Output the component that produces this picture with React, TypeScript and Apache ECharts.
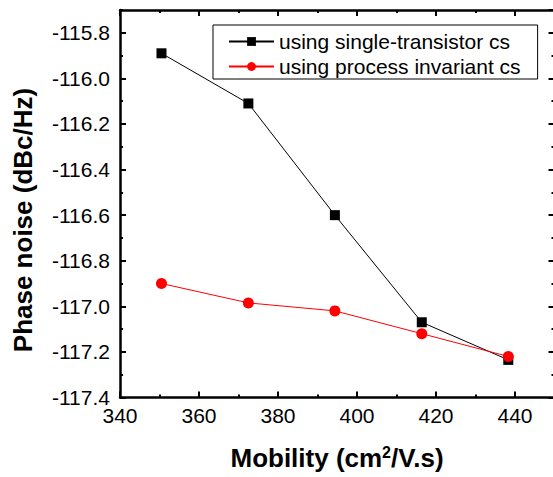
import React, { useEffect, useRef } from 'react';
import * as echarts from 'echarts';

const mobility = [350.5, 372.5, 394.4, 416.4, 438.3];
const singleTransistor = [-115.89, -116.11, -116.6, -117.07, -117.235];
const processInvariant = [-116.9, -116.985, -117.02, -117.12, -117.22];
const seriesNames = ['using single-transistor cs', 'using process invariant cs'];
const xTitle = 'Mobility (cm{sup|2}/V.s)';
const yTitle = 'Phase noise (dBc/Hz)';

const FONT = '"Liberation Sans", Arial, Helvetica, sans-serif';

export default function App() {
  const ref = useRef<HTMLDivElement>(null);
  useEffect(() => {
    const chart = echarts.init(ref.current!, null, { renderer: 'svg' });
    const line = { show: true, onZero: false, lineStyle: { color: '#000', width: 2.5 } };
    const noLine = { show: false };
    const tick = (len: number) => ({ show: true, inside: true, length: len, lineStyle: { color: '#000', width: 2 } });
    const mkX = (pos: string, interval: number, len: number, labels: boolean, withLine: boolean) => ({
      type: 'value', position: pos, min: 340, max: 450, interval,
      axisLine: withLine ? line : noLine,
      axisTick: tick(len),
      axisLabel: labels
        ? { show: true, fontSize: 21, fontFamily: FONT, color: '#000', margin: 7, showMaxLabel: false }
        : { show: false },
      splitLine: { show: false },
    });
    const mkY = (pos: string, interval: number, len: number, labels: boolean, withLine: boolean) => ({
      type: 'value', position: pos, min: -117.4, max: -115.7, interval,
      axisLine: withLine ? line : noLine,
      axisTick: tick(len),
      axisLabel: labels
        ? { show: true, fontSize: 21, fontFamily: FONT, color: '#000', margin: 10, showMaxLabel: false,
            formatter: (v: number) => v.toFixed(1) }
        : { show: false },
      splitLine: { show: false },
    });
    chart.setOption({
      animation: false,
      backgroundColor: '#fff',
      grid: { left: 120, top: 10, width: 434.5, height: 387.5, containLabel: false },
      xAxis: [
        mkX('bottom', 20, 6, true, true),
        mkX('bottom', 10, 3, false, false),
        mkX('top', 20, 6, false, true),
        mkX('top', 10, 3, false, false),
      ],
      yAxis: [
        mkY('left', 0.2, 6, true, true),
        mkY('left', 0.1, 3, false, false),
        mkY('right', 0.2, 6, false, true),
        mkY('right', 0.1, 3, false, false),
      ],
      legend: {
        orient: 'vertical', left: 213, top: 25,
        itemWidth: 45, itemHeight: 11, itemGap: 4,
        padding: [6, 17, 2, 15],
        borderColor: '#000', borderWidth: 1, borderRadius: 0, backgroundColor: '#fff',
        textStyle: { fontSize: 21, fontFamily: FONT, color: '#000' },
        data: seriesNames,
      },
      series: [
        {
          type: 'line', name: seriesNames[0], xAxisIndex: 0, yAxisIndex: 0,
          data: mobility.map((x, i) => [x, singleTransistor[i]]),
          symbol: 'rect', symbolSize: 10,
          lineStyle: { color: '#000', width: 1 }, itemStyle: { color: '#000' },
        },
        {
          type: 'line', name: seriesNames[1], xAxisIndex: 0, yAxisIndex: 0,
          data: mobility.map((x, i) => [x, processInvariant[i]]),
          symbol: 'circle', symbolSize: 11,
          lineStyle: { color: '#ff0000', width: 1 }, itemStyle: { color: '#ff0000' },
        },
      ],
      graphic: [
        {
          type: 'text', x: 337, y: 458,
          style: {
            text: xTitle, font: `bold 26px ${FONT}`, fill: '#000',
            textAlign: 'center', textVerticalAlign: 'middle', align: 'center', verticalAlign: 'middle',
            rich: { sup: { fontSize: 16, fontWeight: 'bold', fontFamily: FONT, padding: [0, 0, 12, 0] } },
          },
        },
        {
          type: 'text', x: 23, y: 220, rotation: Math.PI / 2,
          style: {
            text: yTitle, font: `bold 26px ${FONT}`, fill: '#000',
            textAlign: 'center', textVerticalAlign: 'middle', align: 'center', verticalAlign: 'middle',
          },
        },
      ],
    });
    return () => chart.dispose();
  }, []);
  return (
    <div style={{ position: 'absolute', left: 0, top: 0, width: 553, height: 477, overflow: 'hidden', background: '#fff' }}>
      <div ref={ref} style={{ width: 557, height: 477 }} />
    </div>
  );
}
